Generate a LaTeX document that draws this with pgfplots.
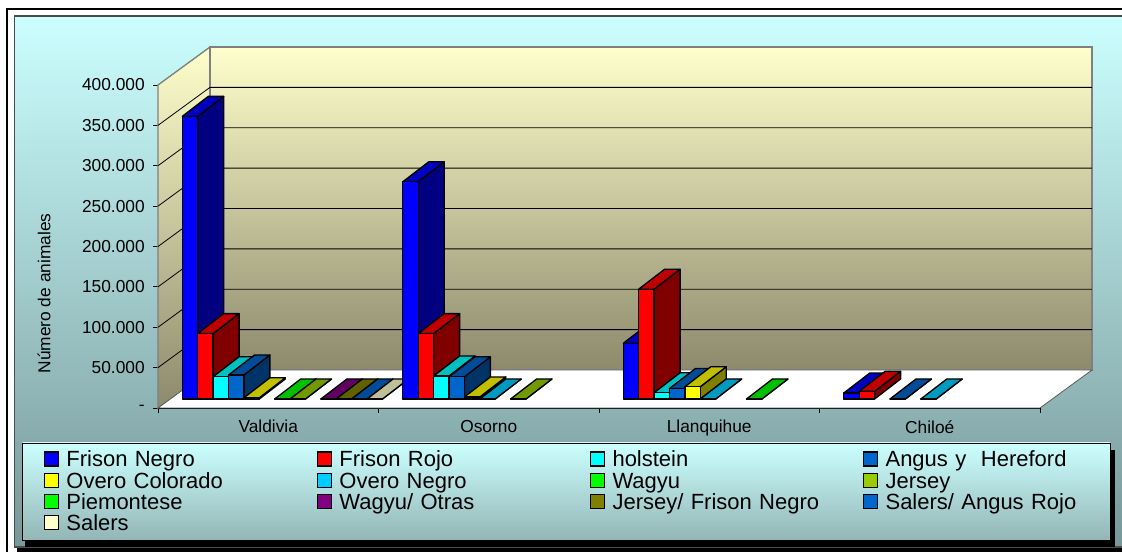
\documentclass[border=0pt]{standalone}
\usepackage{pgfplots}
\pgfplotsset{compat=1.18}
\usepackage{fontspec}
\setmainfont{Liberation Sans}
\definecolor{pantop}{HTML}{CCFFFF}
\definecolor{panbot}{HTML}{779799}
\definecolor{legbot}{HTML}{93B5B5}
\definecolor{walltop}{HTML}{FFFFCC}
\definecolor{wallbot}{HTML}{8C8A6C}
% series colours: front, top, side
\definecolor{fnF}{HTML}{0000FF}\definecolor{fnT}{HTML}{0000C0}\definecolor{fnS}{HTML}{000080}
\definecolor{frF}{HTML}{FF0000}\definecolor{frT}{HTML}{C00000}\definecolor{frS}{HTML}{800000}
\definecolor{hoF}{HTML}{00FFFF}\definecolor{hoT}{HTML}{00C0C0}\definecolor{hoS}{HTML}{008080}
\definecolor{anF}{HTML}{0066CC}\definecolor{anT}{HTML}{004C99}\definecolor{anS}{HTML}{003366}
\definecolor{ocF}{HTML}{FFFF00}\definecolor{ocT}{HTML}{C0C000}\definecolor{ocS}{HTML}{808000}
\definecolor{onF}{HTML}{00CCFF}\definecolor{onT}{HTML}{0099BF}\definecolor{onS}{HTML}{006680}
\definecolor{waF}{HTML}{00FF00}\definecolor{waT}{HTML}{00C000}\definecolor{waS}{HTML}{008000}
\definecolor{jeF}{HTML}{99CC00}\definecolor{jeT}{HTML}{739900}\definecolor{jeS}{HTML}{4D6600}
\definecolor{wopF}{HTML}{800080}\definecolor{wopT}{HTML}{600060}\definecolor{wopS}{HTML}{400040}
\definecolor{jfF}{HTML}{808000}\definecolor{jfT}{HTML}{606000}\definecolor{jfS}{HTML}{404000}
\definecolor{saF}{HTML}{FFFFCC}\definecolor{saT}{HTML}{BFBF99}\definecolor{saS}{HTML}{808066}
% a 3-D bar: category, series number, value, colour prefix
\newcommand\threedbar[4]{%
  \pgfmathsetmacro\xa{#1+0.1102+0.06984*#2}%
  \pgfmathsetmacro\xb{\xa+0.06984}%
  \pgfmathsetmacro\xc{\xa+0.1179}%
  \pgfmathsetmacro\xd{\xb+0.1179}%
  \edef\vt{\the\numexpr#3+24768\relax}%
  \addplot[forget plot,draw=black,line width=1pt,line join=round,fill=#4S,yshift=6.75pt]
     coordinates {(\xb,0)(\xd,24768)(\xd,\vt)(\xb,#3)} --cycle;
  \addplot[forget plot,draw=black,line width=1pt,line join=round,fill=#4T,yshift=6.75pt]
     coordinates {(\xa,#3)(\xb,#3)(\xd,\vt)(\xc,\vt)} --cycle;
  \addplot[forget plot,draw=black,line width=1pt,line join=round,fill=#4F,yshift=6.75pt]
     coordinates {(\xa,0)(\xb,0)(\xb,#3)(\xa,#3)} --cycle;
}
\begin{document}
\begin{tikzpicture}[x=0.75pt,y=0.75pt]
\path[use as bounding box] (0,0) rectangle (1122,-552);
\fill[white] (0,0) rectangle (1122,-552);
\begin{scope}
\clip (0,0) rectangle (1122,-552);
\draw[black,line width=1.4pt] (7,-560) -- (7,-9) -- (1130,-9);
\fill[black] (17,-547) rectangle (1130,-560);
\draw[top color=pantop,bottom color=panbot,draw=black!70,line width=.8pt] (14.5,-16) rectangle (1130,-547);
\fill[black] (25,-450) rectangle (1114.6,-546.5);
\draw[top color=pantop,bottom color=legbot,draw=black,line width=.6pt] (22.5,-443) rectangle (1110,-540.5);
\end{scope}
\begin{axis}[
  at={(118.5pt,-306pt)},anchor=south west,
  scale only axis,width=661.5pt,height=242.25pt,
  xmin=0,xmax=4,ymin=0,ymax=400000,
  clip=false,
  axis x line*=bottom,axis y line*=left,
  axis line style={-,draw=black,line width=.6pt},
  ticklabel style={font=\fontsize{13}{15}\selectfont,/pgf/number format/assume math mode=true},
  tick align=outside,tick style={black,line width=.6pt},
  major tick length=3.75pt,
  scaled y ticks=false,
  ytick={0,50000,100000,150000,200000,250000,300000,350000,400000},
  yticklabels={-,50.000,100.000,150.000,200.000,250.000,300.000,350.000,400.000},
  yticklabel style={inner sep=0pt,xshift=-6pt},
  xtick={0,1,2,3,4},xticklabels={},
  extra x ticks={0.5,1.5,2.5,3.5},
  extra x tick labels={Valdivia,Osorno,Llanquihue,Chiloé},
  extra x tick style={major tick length=0pt,xticklabel style={inner sep=0pt,yshift=-9pt}},
  ylabel={Número de animales},
  ylabel style={font=\fontsize{13}{15}\selectfont,at={(axis description cs:-0.1293,0.3545)},anchor=center},
  legend columns=4,
  legend image code/.code={\draw[#1,line width=.8pt] (0,-3pt) rectangle (10.5pt,7.5pt);},
  legend style={at={(-0.12925,-0.1331)},anchor=north west,draw=none,fill=none,inner sep=0pt,outer sep=0pt,
    row sep=-0.6pt,font=\fontsize{16.5}{20}\selectfont,
    nodes={inner sep=0pt,text height=12pt,text depth=4.5pt,text width=188pt,align=left},
    /tikz/every odd column/.append style={column sep=5.5pt}},
  legend cell align=left,
]
% walls and floor
\path[top color=walltop,bottom color=wallbot,draw=gray,line width=.8pt]
  (axis cs:0,0)--(axis cs:0.2358,47059)--(axis cs:0.2358,447059)--(axis cs:0,400000)--cycle;
\path[top color=walltop,bottom color=wallbot,draw=gray,line width=.8pt]
  (axis cs:0.2358,47059)--(axis cs:4.2358,47059)--(axis cs:4.2358,447059)--(axis cs:0.2358,447059)--cycle;
\path[fill=white,draw=gray!70!black,line width=.6pt]
  (axis cs:0,0)--(axis cs:4,0)--(axis cs:4.2358,47059)--(axis cs:0.2358,47059)--cycle;
% gridlines
\addplot[forget plot,black,line width=.6pt] coordinates {(0,50000)(0.2358,97059)(4.2358,97059)};
\addplot[forget plot,black,line width=.6pt] coordinates {(0,100000)(0.2358,147059)(4.2358,147059)};
\addplot[forget plot,black,line width=.6pt] coordinates {(0,150000)(0.2358,197059)(4.2358,197059)};
\addplot[forget plot,black,line width=.6pt] coordinates {(0,200000)(0.2358,247059)(4.2358,247059)};
\addplot[forget plot,black,line width=.6pt] coordinates {(0,250000)(0.2358,297059)(4.2358,297059)};
\addplot[forget plot,black,line width=.6pt] coordinates {(0,300000)(0.2358,347059)(4.2358,347059)};
\addplot[forget plot,black,line width=.6pt] coordinates {(0,350000)(0.2358,397059)(4.2358,397059)};
\addplot[forget plot,gray,line width=.8pt] coordinates {(0,400000)(0.2358,447059)(4.2358,447059)};
% Valdivia
\threedbar{0}{0}{350000}{fn}
\threedbar{0}{1}{81000}{fr}
\threedbar{0}{2}{27600}{ho}
\threedbar{0}{3}{29700}{an}
\threedbar{0}{4}{1500}{oc}
\threedbar{0}{6}{0}{wa}
\threedbar{0}{7}{0}{je}
\threedbar{0}{9}{0}{wop}
\threedbar{0}{10}{0}{jf}
\threedbar{0}{11}{0}{an}
\threedbar{0}{12}{0}{sa}
% Osorno
\threedbar{1}{0}{269000}{fn}
\threedbar{1}{1}{81000}{fr}
\threedbar{1}{2}{28500}{ho}
\threedbar{1}{3}{27500}{an}
\threedbar{1}{4}{2500}{oc}
\threedbar{1}{5}{0}{on}
\threedbar{1}{7}{0}{je}
% Llanquihue
\threedbar{2}{0}{69000}{fn}
\threedbar{2}{1}{136000}{fr}
\threedbar{2}{2}{7800}{ho}
\threedbar{2}{3}{13000}{an}
\threedbar{2}{4}{15200}{oc}
\threedbar{2}{5}{0}{on}
\threedbar{2}{8}{0}{wa}
% Chiloé
\threedbar{3}{0}{7400}{fn}
\threedbar{3}{1}{9500}{fr}
\threedbar{3}{3}{0}{an}
\threedbar{3}{5}{0}{on}
% legend
\addlegendimage{fill=fnF,draw=black}
\addlegendimage{fill=frF,draw=black}
\addlegendimage{fill=hoF,draw=black}
\addlegendimage{fill=anF,draw=black}
\addlegendimage{fill=ocF,draw=black}
\addlegendimage{fill=onF,draw=black}
\addlegendimage{fill=waF,draw=black}
\addlegendimage{fill=jeF,draw=black}
\addlegendimage{fill=waF,draw=black}
\addlegendimage{fill=wopF,draw=black}
\addlegendimage{fill=jfF,draw=black}
\addlegendimage{fill=anF,draw=black}
\addlegendimage{fill=saF,draw=black}
\legend{Frison Negro,Frison Rojo,holstein,Angus y\ \ Hereford,Overo Colorado,Overo Negro,Wagyu,Jersey,Piemontese,Wagyu/ Otras,Jersey/ Frison Negro,Salers/ Angus Rojo,Salers}
\end{axis}
\end{tikzpicture}
\end{document}
